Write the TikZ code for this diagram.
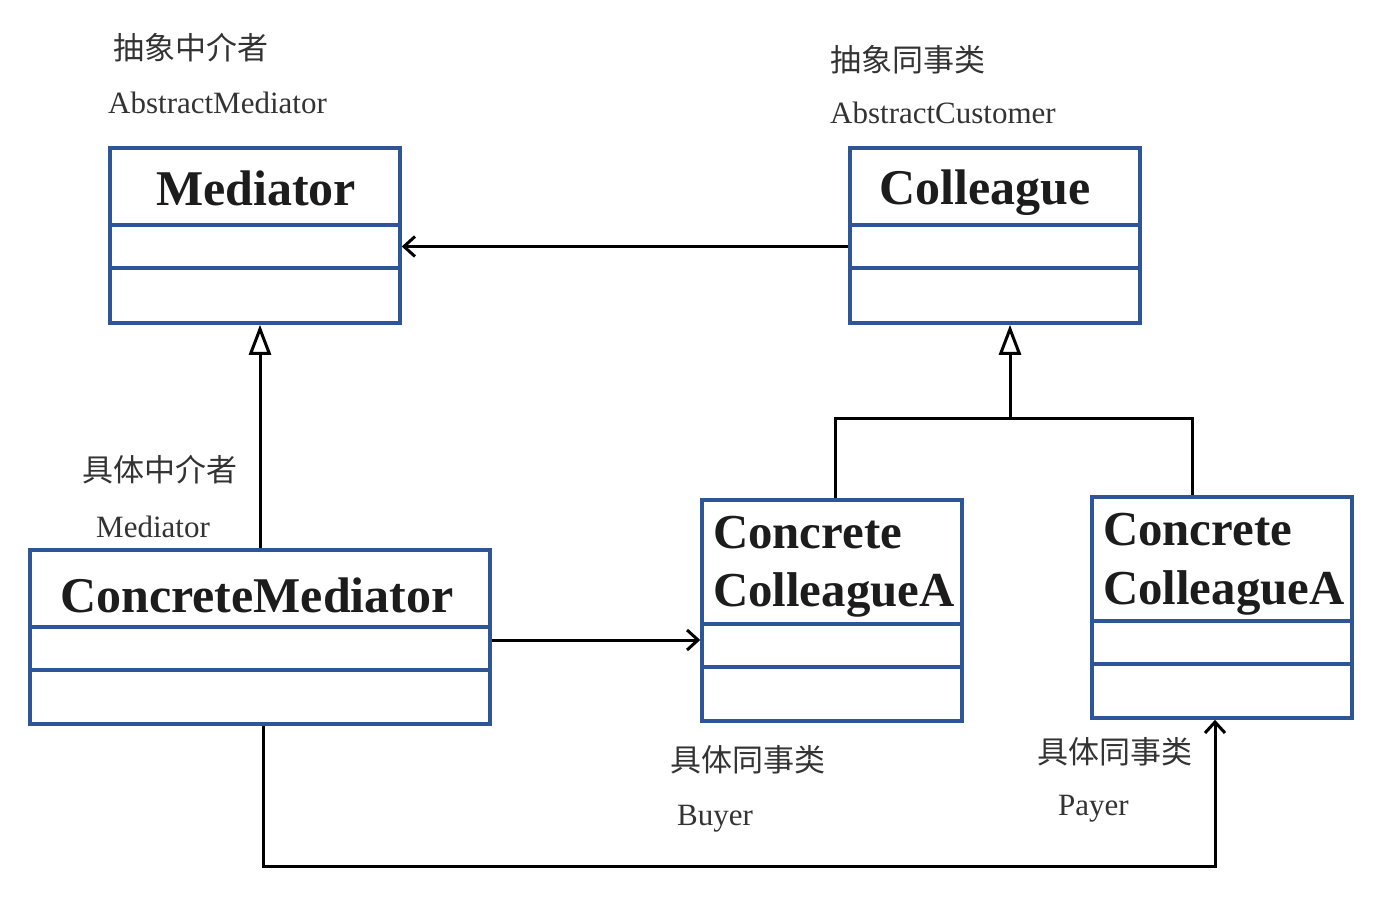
\documentclass[tikz,border=0pt]{standalone}
\usepackage{fontspec}
\setmainfont{Liberation Serif}
\newfontfamily\cjk{Noto Sans CJK SC}
\usetikzlibrary{arrows.meta}
\definecolor{umlblue}{HTML}{2E5596}
\definecolor{labelgray}{HTML}{333333}
\definecolor{titleblack}{HTML}{1C1C1C}
\begin{document}
\begin{tikzpicture}[x=1pt,y=-1pt,
  box/.style={draw=umlblue, line width=3.5pt, inner sep=0pt, fill=white},
  divider/.style={draw=umlblue, line width=3.5pt},
  title/.style={font=\fontsize{50}{58}\selectfont\bfseries, text=titleblack, inner sep=0pt},
  smalltitle/.style={font=\fontsize{48.8}{58}\selectfont\bfseries, text=titleblack, inner sep=0pt, anchor=base west},
  cn/.style={font=\cjk\fontsize{31}{36}\selectfont, text=labelgray, inner sep=0pt, anchor=west},
  en/.style={font=\fontsize{31}{36}\selectfont, text=labelgray, inner sep=0pt, anchor=base west},
  conn/.style={line width=3pt, black},
  assoc/.style={conn, -{Straight Barb[length=11pt,width=20pt]}},
  inherit/.style={conn, -{Triangle[open,length=30pt,width=22pt,line width=3pt]}}
]
\useasboundingbox (0,0) rectangle (1390,910);

% boxes
\node[box, minimum width=290pt, minimum height=175pt] (med) at (255,235.5) {};
\node[box, minimum width=290pt, minimum height=175pt] (col) at (995,235.5) {};
\node[box, minimum width=460pt, minimum height=174pt] (cm) at (260,637) {};
\node[box, minimum width=260pt, minimum height=221pt] (ccA) at (832,610.5) {};
\node[box, minimum width=260pt, minimum height=221pt] (ccB) at (1222,607.5) {};

% dividers
\draw[divider] (110,225) -- (400,225);
\draw[divider] (110,268) -- (400,268);
\draw[divider] (850,225) -- (1140,225);
\draw[divider] (850,268) -- (1140,268);
\draw[divider] (30,627) -- (490,627);
\draw[divider] (30,670) -- (490,670);
\draw[divider] (702,624) -- (962,624);
\draw[divider] (702,667) -- (962,667);
\draw[divider] (1092,621) -- (1352,621);
\draw[divider] (1092,664) -- (1352,664);

% titles
\node[title, anchor=base] (medT) at (256,205) {Mediator};
\node[title, anchor=base] (colT) at (985,204) {Colleague};
\node[title, anchor=base] (cmT) at (257,612) {ConcreteMediator};
\node[smalltitle] (ccA1) at (713,548) {Concrete};
\node[smalltitle] (ccA2) at (713,606) {ColleagueA};
\node[smalltitle] (ccB1) at (1103,545) {Concrete};
\node[smalltitle] (ccB2) at (1103,604) {ColleagueA};

% labels
\node[cn] (l1) at (113,48) {抽象中介者};
\node[en] (l2) at (108,113) {AbstractMediator};
\node[cn] (l3) at (830,60) {抽象同事类};
\node[en] (l4) at (830,123) {AbstractCustomer};
\node[cn] (l5) at (82,470) {具体中介者};
\node[en] (l6) at (96,537) {Mediator};
\node[cn] (l7) at (670,760) {具体同事类};
\node[en] (l8) at (677,825) {Buyer};
\node[cn] (l9) at (1037,752) {具体同事类};
\node[en] (l10) at (1058,815) {Payer};

% connectors
\draw[assoc] ([yshift=-11pt]col.west) -- ([yshift=-11pt]med.east);
\draw[inherit] (cm.north) -- (cm.north |- med.south);
\coordinate (j) at (1010,418);
\draw[inherit] (j) -- (j |- col.south);
\draw[conn] ([xshift=3pt]ccA.north) |- (j) -| ([xshift=-30pt]ccB.north);
\coordinate (cmR) at ([yshift=-3pt]cm.east);
\draw[assoc] (cmR) -- (cmR -| ccA.west);
\coordinate (bot) at (1215,866);
\draw[assoc] ([xshift=3pt]cm.south) |- (bot) -- (bot |- ccB.south);
\end{tikzpicture}
\end{document}
